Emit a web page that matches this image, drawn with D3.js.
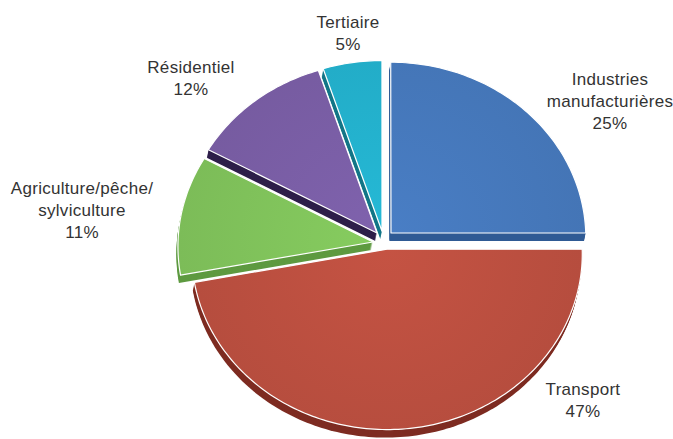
<!DOCTYPE html>
<html>
<head>
<meta charset="utf-8">
<script src="https://cdn.jsdelivr.net/npm/d3@7"></script>
<style>
  html, body { margin: 0; padding: 0; background: #fff; }
  svg { display: block; }
  text { font-family: "Liberation Sans", "Noto Sans", sans-serif; font-size: 17px; fill: #333; letter-spacing: 0.3px; }
</style>
</head>
<body>
<svg id="chart" width="673" height="439"></svg>
<script>
// Energy use by sector (share of total, %)
const categories = ["Industries manufacturières", "Transport", "Agriculture/pêche/sylviculture", "Résidentiel", "Tertiaire"];
const values = [25, 47, 11, 12, 5];
const labelLines = [["Industries", "manufacturières"], ["Transport"], ["Agriculture/pêche/", "sylviculture"], ["Résidentiel"], ["Tertiaire"]];

const topColors  = ["#4679bd", "#bd5040", "#80c35b", "#7a5ea6", "#23b1cd"];
const sideColors = ["#2f5a94", "#7e2c22", "#5e9a40", "#2e1f4a", "#137687"];

// Layout of the tilted disc
const cx = 380, cy = 242;   // centre of the disc on screen
const R = 195;              // disc radius
const tilt = 0.9;           // vertical foreshortening
const persp = 0.025;        // nearer (lower) parts drawn slightly larger
const depth = 8;            // thickness of the disc
// pull-out of each slice in the disc plane [along x, along depth]
const pullOut = [[11, -10], [7, 8], [-7, 0], [-3, -10], [2, -12]];
const labelPos = [[610, 85], [583, 395], [82, 194], [191, 73], [348, 28]];
const lineGap = 22;

const svg = d3.select("#chart");

const pie = d3.pie().sort(null).value(d => d);
const arcs = pie(values);

// disc-plane point -> screen point
function project(u, v) {
  const p = 1 / (1 - persp * v / R);
  return [cx + u * p, cy + tilt * v * p];
}

const line = d3.line().curve(d3.curveLinearClosed);

function slicePoints(a, i) {
  const [ox, oy] = pullOut[i];
  const pts = [project(ox, oy)];
  const n = Math.max(8, Math.ceil((a.endAngle - a.startAngle) / 0.02));
  for (let k = 0; k <= n; k++) {
    const t = a.startAngle + (a.endAngle - a.startAngle) * k / n;
    pts.push(project(ox + R * Math.sin(t), oy - R * Math.cos(t)));
  }
  return pts;
}

// subtle shading for the top faces
const defs = svg.append("defs");
arcs.forEach((a, i) => {
  const [ax, ay] = project(pullOut[i][0], pullOut[i][1]);
  const g = defs.append("radialGradient")
    .attr("id", "shade" + i)
    .attr("gradientUnits", "userSpaceOnUse")
    .attr("cx", ax).attr("cy", ay).attr("r", R);
  g.append("stop").attr("offset", "0%").attr("stop-color", d3.color(topColors[i]).brighter(0.12));
  g.append("stop").attr("offset", "100%").attr("stop-color", d3.color(topColors[i]).darker(0.1));
});

// back slices first, the large front slice last
const order = [4, 3, 0, 2, 1];
order.forEach(i => {
  const a = arcs[i];
  const pts = slicePoints(a, i);
  const d = line(pts);
  const g = svg.append("g");
  // extruded side
  for (let k = depth; k >= 1; k--) {
    g.append("path")
      .attr("d", d)
      .attr("transform", `translate(${-k * 0.2},${k})`)
      .attr("fill", sideColors[i]);
  }
  // top face
  g.append("path")
    .attr("d", d)
    .attr("fill", `url(#shade${i})`)
    .attr("stroke", "#fff")
    .attr("stroke-width", 1.2)
    .attr("stroke-linejoin", "round");
});

// labels: name lines then percentage
arcs.forEach((a, i) => {
  const [x, y] = labelPos[i];
  const t = svg.append("text").attr("text-anchor", "middle");
  labelLines[i].concat([values[i] + "%"]).forEach((s, j) => {
    t.append("tspan").attr("x", x).attr("y", y + j * lineGap).text(s);
  });
});
</script>
</body>
</html>
